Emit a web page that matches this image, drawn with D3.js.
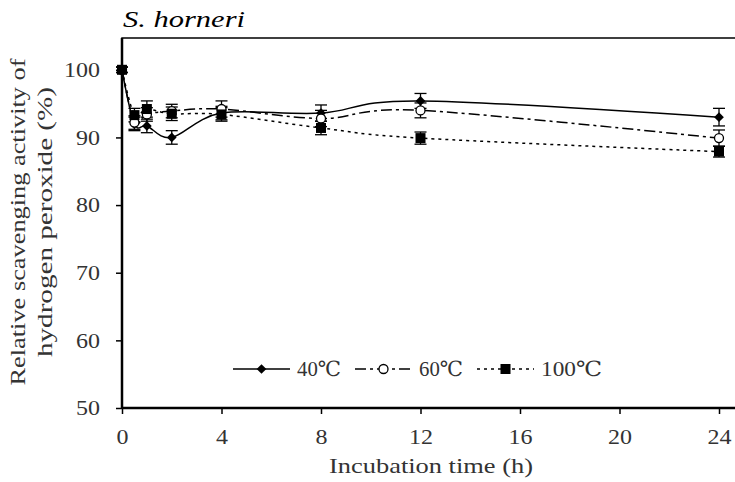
<!DOCTYPE html>
<html>
<head>
<meta charset="utf-8">
<script src="https://cdn.jsdelivr.net/npm/d3@7"></script>
<style>
  body { margin: 0; background: #fff; }
  svg text { font-family: "Liberation Serif", "DejaVu Serif", serif; fill: #333; }
</style>
</head>
<body>
<div id="chart"></div>
<script>
// incubation times (h)
const hours = [0, 0.5, 1, 2, 4, 8, 12, 24];

// relative scavenging activity (%) per temperature
const act40 = [100, 92.0, 91.7, 90.0, 93.6, 93.6, 95.4, 93.0];
const act60 = [100, 92.2, 93.4, 93.9, 94.2, 92.8, 94.0, 89.9];
const act100 = [100, 93.3, 94.2, 93.5, 93.4, 91.4, 89.9, 87.9];

// standard deviations
const err40 = [0.4, 1.0, 1.0, 1.0, 1.0, 1.2, 1.1, 1.3];
const err60 = [0.4, 1.0, 1.0, 1.0, 1.2, 1.2, 1.1, 1.2];
const err100 = [0.4, 1.0, 1.2, 1.0, 1.0, 1.0, 0.9, 0.8];

const seriesNames = ["40℃", "60℃", "100℃"];
const xTicks = [0, 4, 8, 12, 16, 20, 24];
const yTicks = [50, 60, 70, 80, 90, 100];

const width = 735, height = 482;
const margin = {top: 38, left: 122, bottom: 74};

const svg = d3.select("#chart").append("svg")
    .attr("width", width)
    .attr("height", height);

const x = d3.scaleLinear().domain([0, 24]).range([margin.left, 719]);
const y = d3.scaleLinear().domain([50, 104.7]).range([height - margin.bottom, margin.top]);

// plot frame (top edge runs off the right side)
svg.append("rect")
    .attr("x", margin.left)
    .attr("y", margin.top)
    .attr("width", width)
    .attr("height", y(50) - margin.top)
    .attr("fill", "none")
    .attr("stroke", "#000")
    .attr("stroke-width", 1.5);

// axes
const xAxis = svg.append("g")
    .attr("transform", "translate(0," + y(50) + ")")
    .call(d3.axisBottom(x).tickValues(xTicks).tickSize(6).tickPadding(15).tickSizeOuter(0));
const yAxis = svg.append("g")
    .attr("transform", "translate(" + margin.left + ",0)")
    .call(d3.axisLeft(y).tickValues(yTicks).tickSize(6).tickPadding(16).tickSizeOuter(0));

[xAxis, yAxis].forEach(g => {
    g.select(".domain").remove();
    g.selectAll(".tick line").attr("stroke", "#000").attr("stroke-width", 1.5);
    g.selectAll(".tick text")
        .style("font-size", "21px")
        .style("fill", "#333")
        .style("font-family", "Liberation Serif, serif")
        .attr("textLength", d => String(d).length * 12)
        .attr("lengthAdjust", "spacingAndGlyphs");
});

// axis lines drawn thick
svg.append("line")
    .attr("x1", margin.left).attr("x2", width)
    .attr("y1", y(50)).attr("y2", y(50))
    .attr("stroke", "#000").attr("stroke-width", 2.5);
svg.append("line")
    .attr("x1", margin.left).attr("x2", margin.left)
    .attr("y1", margin.top).attr("y2", y(50))
    .attr("stroke", "#000").attr("stroke-width", 2.5);

// series
const series = [
    {name: seriesNames[0], vals: act40, errs: err40, dash: null, marker: "diamond"},
    {name: seriesNames[1], vals: act60, errs: err60, dash: "11,4,3,4", marker: "circle"},
    {name: seriesNames[2], vals: act100, errs: err100, dash: "3,4", marker: "square"}
];

const line = d3.line()
    .x(d => x(d.t))
    .y(d => y(d.v))
    .curve(d3.curveCardinal.tension(0));

function drawMarker(g, type, cx, cy) {
    if (type === "diamond") {
        g.append("path")
            .attr("d", d3.symbol(d3.symbolDiamond2, 60)())
            .attr("transform", "translate(" + cx + "," + cy + ")")
            .attr("fill", "#000");
    } else if (type === "circle") {
        g.append("circle")
            .attr("cx", cx).attr("cy", cy).attr("r", 4.5)
            .attr("fill", "#fff").attr("stroke", "#000").attr("stroke-width", 1.3);
    } else {
        g.append("rect")
            .attr("x", cx - 5).attr("y", cy - 5)
            .attr("width", 10).attr("height", 10)
            .attr("fill", "#000");
    }
}

series.forEach(s => {
    const pts = hours.map((t, i) => ({t: t, v: s.vals[i], e: s.errs[i]}));
    svg.append("path")
        .datum(pts)
        .attr("d", line)
        .attr("fill", "none")
        .attr("stroke", "#000")
        .attr("stroke-width", 1.5)
        .attr("stroke-dasharray", s.dash);

    const eb = svg.append("g");
    pts.forEach(p => {
        const cx = x(p.t);
        eb.append("line")
            .attr("x1", cx).attr("x2", cx)
            .attr("y1", y(p.v - p.e)).attr("y2", y(p.v + p.e))
            .attr("stroke", "#000").attr("stroke-width", 1.3);
        [p.v - p.e, p.v + p.e].forEach(v => {
            eb.append("line")
                .attr("x1", cx - 6).attr("x2", cx + 6)
                .attr("y1", y(v)).attr("y2", y(v))
                .attr("stroke", "#000").attr("stroke-width", 1.3);
        });
    });
});

series.forEach(s => {
    const mg = svg.append("g");
    hours.forEach((t, i) => drawMarker(mg, s.marker, x(t), y(s.vals[i])));
});

// legend
const legendX = [233, 355, 477];
const legendLen = [44, 44, 61];
const legendY = 369;
series.forEach((s, i) => {
    const g = svg.append("g").attr("transform", "translate(" + legendX[i] + "," + legendY + ")");
    g.append("line")
        .attr("x1", 0).attr("x2", 57)
        .attr("stroke", "#000").attr("stroke-width", 1.5)
        .attr("stroke-dasharray", s.dash);
    drawMarker(g, s.marker, 28.5, 0);
    g.append("text")
        .attr("x", 64).attr("y", 7)
        .attr("textLength", legendLen[i])
        .attr("lengthAdjust", "spacingAndGlyphs")
        .style("font-size", "21px")
        .text(s.name);
});

// title
svg.append("text")
    .attr("x", 123).attr("y", 27)
    .attr("textLength", 122)
    .attr("lengthAdjust", "spacingAndGlyphs")
    .style("font-size", "24px")
    .style("font-style", "italic")
    .style("fill", "#000")
    .text("S. horneri");

// axis titles
svg.append("text")
    .attr("x", 431).attr("y", 473)
    .attr("text-anchor", "middle")
    .attr("textLength", 204)
    .attr("lengthAdjust", "spacingAndGlyphs")
    .style("font-size", "22px")
    .text("Incubation time (h)");

const yl = svg.append("text")
    .attr("transform", "translate(0,222) rotate(-90)")
    .attr("text-anchor", "middle")
    .style("font-size", "22px");
yl.append("tspan").attr("x", 0).attr("y", 25)
    .attr("textLength", 327).attr("lengthAdjust", "spacingAndGlyphs")
    .text("Relative scavenging activity of");
yl.append("tspan").attr("x", 0).attr("y", 52)
    .attr("textLength", 270).attr("lengthAdjust", "spacingAndGlyphs")
    .text("hydrogen peroxide (%)");
</script>
</body>
</html>
